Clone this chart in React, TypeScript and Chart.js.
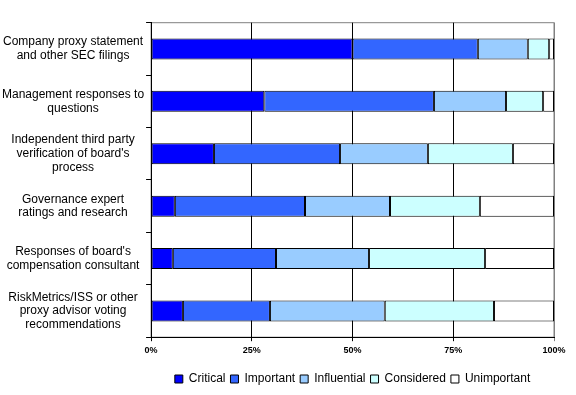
import React, { useEffect, useRef } from "react";
import { Chart, registerables } from "chart.js";

Chart.register(...registerables);

const categories: string[][] = [
  ["Company proxy statement", "and other SEC filings"],
  ["Management responses to", "questions"],
  ["Independent third party", "verification of board's", "process"],
  ["Governance expert", "ratings and research"],
  ["Responses of board's", "compensation consultant"],
  ["RiskMetrics/ISS or other", "proxy advisor voting", "recommendations"],
];

const seriesNames = ["Critical", "Important", "Influential", "Considered", "Unimportant"];
const seriesColors = ["#0000FF", "#3366FF", "#99CCFF", "#CCFFFF", "#FFFFFF"];

const critical = [50, 28.1, 15.6, 5.9, 5.4, 7.9];
const important = [31.1, 42.1, 31.3, 32.3, 25.6, 21.6];
const influential = [12.4, 17.9, 21.8, 21.1, 23.1, 28.5];
const considered = [5.3, 9.2, 21.1, 22.3, 28.8, 27.1];
const unimportant = [1.2, 2.7, 10.2, 18.4, 17.1, 14.9];

const xTicks = [0, 25, 50, 75, 100];

const FONT = "'Liberation Sans', Arial, sans-serif";

const plotBorder = {
  id: "plotBorder",
  beforeDraw(chart: any) {
    const { ctx, chartArea } = chart;
    ctx.save();
    ctx.strokeStyle = "#808080";
    ctx.lineWidth = 1;
    ctx.strokeRect(chartArea.left, chartArea.top, chartArea.right - chartArea.left, chartArea.bottom - chartArea.top);
    ctx.restore();
  },
};

export default function App() {
  const ref = useRef<HTMLCanvasElement>(null);
  useEffect(() => {
    const values = [critical, important, influential, considered, unimportant];
    const chart = new Chart(ref.current!, {
      type: "bar",
      data: {
        labels: categories,
        datasets: seriesNames.map((name, i) => ({
          label: name,
          data: values[i],
          backgroundColor: seriesColors[i],
          borderColor: "#000000",
          borderWidth: 1,
          borderSkipped: false,
          barPercentage: 0.8,
          categoryPercentage: 0.5,
        })),
      },
      options: {
        indexAxis: "y",
        animation: false,
        responsive: false,
        maintainAspectRatio: false,
        layout: { padding: { left: 0, right: 22, top: 16, bottom: 0 } },
        plugins: {
          legend: {
            position: "bottom",
            fullSize: false,
            labels: {
              boxWidth: 8,
              boxHeight: 8,
              padding: 5,
              color: "#000",
              font: { family: FONT, size: 12 },
            },
          },
          tooltip: { enabled: false },
        },
        scales: {
          x: {
            stacked: true,
            min: 0,
            max: 100,
            afterBuildTicks: (scale: any) => {
              scale.ticks = xTicks.map((v) => ({ value: v }));
            },
            afterFit: (scale: any) => {
              scale.height += 8;
            },
            ticks: {
              color: "#000",
              font: { family: FONT, size: 9, weight: "bold" },
              callback: (v: any) => v + "%",
              padding: 4,
              maxRotation: 0,
            },
            grid: {
              color: (c: any) => (c.tick && c.tick.value === 100 ? "#808080" : "#000000"),
              tickLength: 4,
              lineWidth: 1,
            },
            border: { display: true, color: "#000" },
          },
          y: {
            stacked: true,
            ticks: {
              color: "#000",
              font: { family: FONT, size: 12, lineHeight: 1.15 },
              crossAlign: "center",
              padding: 2,
            },
            grid: {
              drawOnChartArea: false,
              drawTicks: true,
              tickLength: 5,
              color: "#000",
            },
            border: { display: true, color: "#000" },
          },
        },
      },
      plugins: [plotBorder],
    });
    return () => chart.destroy();
  }, []);
  return (
    <div style={{ position: "fixed", left: 0, top: 0, width: 576, height: 395, background: "#fff" }}>
      <canvas ref={ref} width={576} height={395} style={{ width: 576, height: 395 }} />
    </div>
  );
}
